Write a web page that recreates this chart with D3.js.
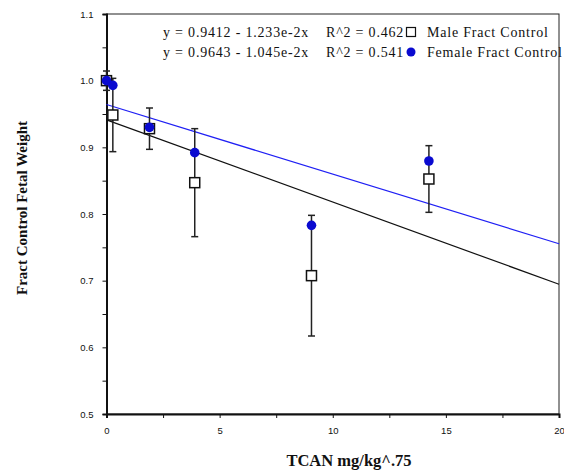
<!DOCTYPE html>
<html>
<head>
<meta charset="utf-8">
<script src="https://cdn.jsdelivr.net/npm/d3@7"></script>
<style>
  html, body { margin: 0; padding: 0; background: #fff; }
  svg { display: block; }
</style>
</head>
<body>
<svg id="chart" width="564" height="472"></svg>
<script>
// Dose levels (TCAN mg/kg^.75)
const doses = [0, 0.28, 1.9, 3.9, 9.06, 14.25];
// Fraction of control fetal weight
const maleValues = [1.0, 0.9485, 0.928, 0.847, 0.7075, 0.8525];
const maleErrors = [0.0145, 0.055, 0.031, 0.081, 0.0905, 0.05];
const femaleValues = [1.0, 0.993, 0.93, 0.892, 0.783, 0.8795];
// Linear fits: y = intercept + slope * x
const fitIntercepts = [0.9412, 0.9643];
const fitSlopes = [-1.233e-2, -1.045e-2];
const fitLabels = ["y = 0.9412 - 1.233e-2x", "y = 0.9643 - 1.045e-2x"];
const r2Labels = ["R^2 = 0.462", "R^2 = 0.541"];
const seriesNames = ["Male Fract Control", "Female Fract Control"];
const xTicks = [0, 5, 10, 15, 20];
const xMinorTicks = [2.5, 7.5, 12.5, 17.5];
const yTicks = [0.5, 0.6, 0.7, 0.8, 0.9, 1.0, 1.1];
const yMinorTicks = [0.55, 0.65, 0.75, 0.85, 0.95, 1.05];

const svg = d3.select("#chart");
const x = d3.scaleLinear().domain([0, 20]).range([106.5, 559]);
const y = d3.scaleLinear().domain([0.5, 1.1]).range([414, 14]);

const serif = "'Liberation Serif', 'Times New Roman', serif";
const sans = "'Liberation Sans', Arial, sans-serif";
const blueDot = "#0a0ad0";
const blueLine = "#2020f4";

// frame on top and right
svg.append("rect")
  .attr("x", x(0)).attr("y", y(1.1))
  .attr("width", x(20) - x(0)).attr("height", y(0.5) - y(1.1))
  .attr("fill", "none").attr("stroke", "#222").attr("stroke-width", 1);

// x axis
svg.append("g").attr("transform", `translate(0,${y(0.5)})`)
  .call(d3.axisBottom(x).tickValues(xTicks).tickFormat(d3.format("d")).tickSize(4).tickPadding(9));
svg.append("g").attr("transform", `translate(0,${y(0.5)})`)
  .call(d3.axisBottom(x).tickValues(xMinorTicks).tickFormat("").tickSize(4))
  .call(g => g.select(".domain").remove());

// y axis
svg.append("g").attr("transform", `translate(${x(0)},0)`)
  .call(d3.axisLeft(y).tickValues(yTicks).tickFormat(d3.format(".1f")).tickSize(4).tickPadding(9));
svg.append("g").attr("transform", `translate(${x(0)},0)`)
  .call(d3.axisLeft(y).tickValues(yMinorTicks).tickFormat("").tickSize(4))
  .call(g => g.select(".domain").remove());

svg.selectAll(".domain").attr("stroke", "#111").attr("stroke-width", 2);
svg.selectAll(".tick line").attr("stroke", "#111").attr("stroke-width", 1);
svg.selectAll(".tick text").attr("font-family", sans).attr("font-size", 9.5).attr("fill", "#111");

// fit lines
const lineColors = ["#111", blueLine];
fitIntercepts.forEach((b, i) => {
  svg.append("line")
    .attr("x1", x(0)).attr("y1", y(b))
    .attr("x2", x(20)).attr("y2", y(b + fitSlopes[i] * 20))
    .attr("stroke", lineColors[i]).attr("stroke-width", 1.2);
});

// male error bars
const eb = svg.append("g").attr("stroke", "#222").attr("stroke-width", 1.5);
doses.forEach((d, i) => {
  const cx = x(d);
  const lo = y(maleValues[i] - maleErrors[i]);
  const hi = y(maleValues[i] + maleErrors[i]);
  eb.append("line").attr("x1", cx).attr("x2", cx).attr("y1", lo).attr("y2", hi);
  eb.append("line").attr("x1", cx - 3.5).attr("x2", cx + 3.5).attr("y1", lo).attr("y2", lo);
  eb.append("line").attr("x1", cx - 3.5).attr("x2", cx + 3.5).attr("y1", hi).attr("y2", hi);
});

// male squares
svg.append("g").selectAll("rect").data(doses).join("rect")
  .attr("x", (d) => x(d) - 5)
  .attr("y", (d, i) => y(maleValues[i]) - 5)
  .attr("width", 10).attr("height", 10)
  .attr("fill", "#fff").attr("stroke", "#111").attr("stroke-width", 1.5);

// female dots
svg.append("g").selectAll("circle").data(doses).join("circle")
  .attr("cx", (d) => x(d))
  .attr("cy", (d, i) => y(femaleValues[i]))
  .attr("r", 4.8)
  .attr("fill", blueDot);

// legend
const legendRows = [32, 52];
const legendText = (tx, ty, s) => svg.append("text").attr("x", tx).attr("y", ty)
  .attr("font-family", serif).attr("font-size", 14).attr("letter-spacing", 0.8)
  .attr("fill", "#111").text(s);
legendRows.forEach((ly, i) => {
  legendText(163, ly + 4.5, fitLabels[i]);
  legendText(326, ly + 4.5, r2Labels[i]);
  legendText(427, ly + 4.5, seriesNames[i]);
});
svg.append("rect").attr("x", 406.5).attr("y", legendRows[0] - 4.5)
  .attr("width", 9).attr("height", 9)
  .attr("fill", "#fff").attr("stroke", "#111").attr("stroke-width", 1.2);
svg.append("circle").attr("cx", 411).attr("cy", legendRows[1]).attr("r", 4.5)
  .attr("fill", blueDot);

// axis titles
svg.append("text").attr("x", 349).attr("y", 466)
  .attr("text-anchor", "middle")
  .attr("font-family", serif).attr("font-size", 16.5).attr("font-weight", "bold").attr("fill", "#111")
  .text("TCAN mg/kg^.75");
svg.append("text")
  .attr("transform", "translate(27,208) rotate(-90)")
  .attr("text-anchor", "middle")
  .attr("font-family", serif).attr("font-size", 15).attr("font-weight", "bold").attr("fill", "#111")
  .text("Fract Control Fetal Weight");
</script>
</body>
</html>
